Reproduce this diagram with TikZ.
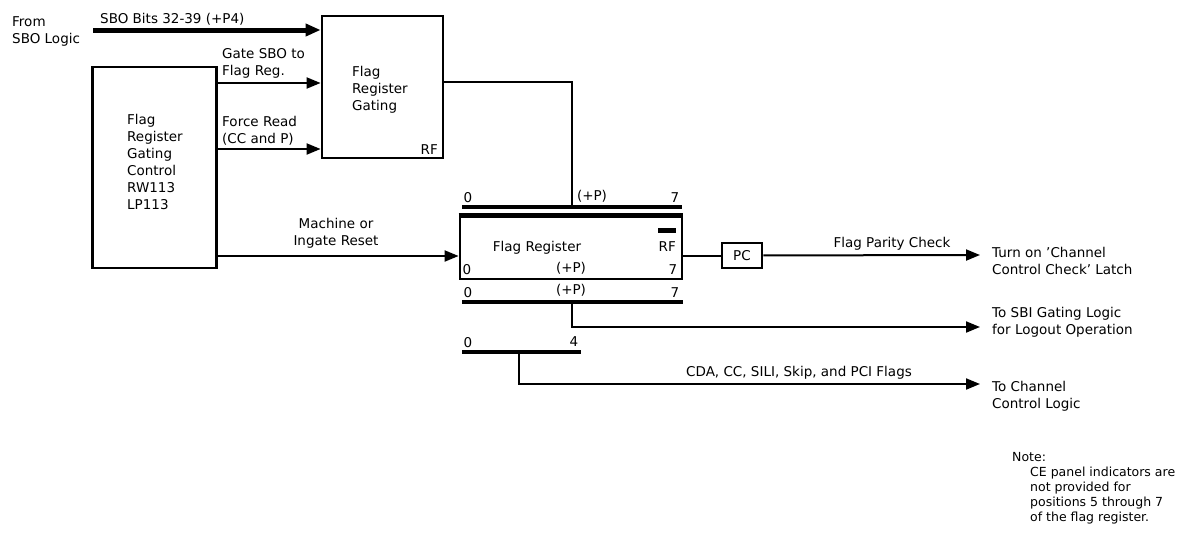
\documentclass[tikz,border=0pt]{standalone}
\usepackage{fontspec}
\setmainfont{DejaVu Sans}
\usetikzlibrary{arrows.meta,positioning}

\begin{document}
\begin{tikzpicture}[
    x=1pt, y=-1pt,
    font=\fontsize{13.5}{17}\selectfont,
    box/.style={draw, line width=2.8pt, inner sep=0pt},
    txt/.style={align=left, inner sep=0pt, anchor=north west},
    lbl/.style={inner sep=0pt, anchor=base},
    bus/.style={line width=4pt},
    wire/.style={line width=2pt},
    sig/.style={wire, -{Triangle[length=14pt,width=11pt]}}
]
\useasboundingbox (0,0) rectangle (1186,536);

% boxes
\node[box, minimum width=124pt, minimum height=201pt] (control) at (154.5,167.5) {};
\node[box, minimum width=121pt, minimum height=142pt] (gating) at (382.5,87) {};
\node[box, minimum width=222pt, minimum height=62pt] (flagreg) at (571,248) {};
\node[box, minimum width=40pt, minimum height=25pt] (pc) at (742,255.5) {PC};
\draw[line width=5pt] (flagreg.north west) -- (flagreg.north east);
\fill (658,228) rectangle (676,233);

% texts in the boxes
\node[txt] (controltxt) at (127,114) {Flag\\Register\\Gating\\Control\\RW113\\LP113};
\node[txt] (gatingtxt) at (352,66) {Flag\\Register\\Gating};
\node[lbl, anchor=base east] (gatingrf) at (438,154) {RF};
\node[lbl] (flagregtxt) at (537,251) {Flag Register};
\node[lbl, anchor=base east] (flagregrf) at (676,251) {RF};
\node[lbl] (in0) at (467,274) {0};
\node[lbl] (inp) at (571,272) {(+P)};
\node[lbl] (in7) at (673,274) {7};

% inputs
\node[txt] (fromsbo) at (12,16) {From\\SBO Logic};
\coordinate (sbostart) at (93,30);
\draw[sig, line width=5pt, -{Triangle[length=15pt,width=12pt]}] (sbostart) -- (gating.west |- sbostart);
\node[lbl, anchor=base west] (sbobits) at (100,23) {SBO Bits 32-39 (+P4)};
\draw[sig] (control.east |- 0,83) -- (gating.west |- 0,83);
\node[txt] (gatesbo) at (222,48) {Gate SBO to\\Flag Reg.};
\draw[sig] (control.east |- 0,149) -- (gating.west |- 0,149);
\node[txt] (forceread) at (222,116) {Force Read\\(CC and P)};
\draw[sig] (control.east |- 0,256) -- (flagreg.west |- 0,256);
\node[txt, align=center, anchor=north] (reset) at (336,218) {Machine or\\Ingate Reset};

% buses
\coordinate (ubusw) at (462,207);
\coordinate (ubuse) at (682,207);
\draw[bus] (ubusw) -- (ubuse);
\node[lbl] (ub0) at (468,202) {0};
\node[lbl] (ubp) at (592,200) {(+P)};
\node[lbl] (ub7) at (675,202) {7};
\draw[wire] (gating.east |- 0,82) -| (572,207);

\coordinate (lbusw) at (462,302);
\coordinate (lbuse) at (683,302);
\draw[bus] (lbusw) -- (lbuse);
\node[lbl] (lb0) at (468,297) {0};
\node[lbl] (lbp) at (571,294) {(+P)};
\node[lbl] (lb7) at (675,297) {7};

\coordinate (cbusw) at (462,352);
\coordinate (cbuse) at (581,352);
\draw[bus] (cbusw) -- (cbuse);
\node[lbl] (cb0) at (468,347) {0};
\node[lbl] (cb4) at (574,346) {4};

% outputs
\coordinate (parityend) at (980,255);
\coordinate (logoutend) at (980,327);
\coordinate (channelend) at (980,384);
\draw[wire] (flagreg.east |- pc) -- (pc);
\draw[sig] (pc) -- (parityend);
\node[lbl] (parity) at (892,247) {Flag Parity Check};
\draw[sig] (572,302) |- (logoutend);
\draw[sig] (519,352) |- (channelend);
\node[lbl] (flags) at (799,376) {CDA, CC, SILI, Skip, and PCI Flags};

\node[txt] (latch) at (992,247) {Turn on 'Channel\\Control Check' Latch};
\node[txt] (sbi) at (992,307) {To SBI Gating Logic\\for Logout Operation};
\node[txt] (channel) at (992,381) {To Channel\\Control Logic};

% note
\node[txt, font=\fontsize{12.5}{15}\selectfont] (note) at (1012,452) {Note:\\
    \hspace*{18pt}CE panel indicators are\\
    \hspace*{18pt}not provided for\\
    \hspace*{18pt}positions 5 through 7\\
    \hspace*{18pt}of the flag register.};

\end{tikzpicture}
\end{document}
